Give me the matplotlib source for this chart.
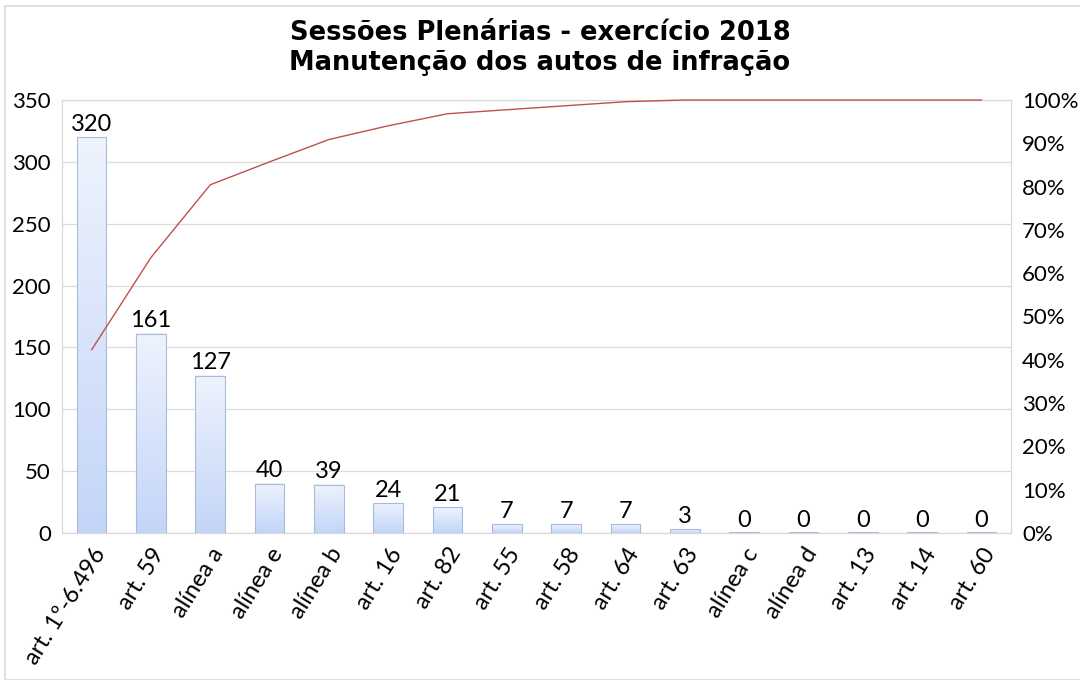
import matplotlib
matplotlib.use("Agg")
import matplotlib.pyplot as plt
import numpy as np
from matplotlib.patches import Rectangle
from matplotlib.colors import LinearSegmentedColormap

categories = ["art. 1º-6.496", "art. 59", "alínea a", "alínea e", "alínea b", "art. 16",
              "art. 82", "art. 55", "art. 58", "art. 64", "art. 63", "alínea c",
              "alínea d", "art. 13", "art. 14", "art. 60"]
values = [320, 161, 127, 40, 39, 24, 21, 7, 7, 7, 3, 0, 0, 0, 0, 0]
title_lines = ["Sessões Plenárias - exercício 2018", "Manutenção dos autos de infração"]

cum_pct = np.cumsum(values) / np.sum(values) * 100

plt.rcParams['font.family'] = ['Lato', 'DejaVu Sans']

fig = plt.figure(figsize=(10.8, 6.8), dpi=100)
fig.patches.append(Rectangle((5/1080, 0), 2, (680-6)/680, transform=fig.transFigure,
                             fill=False, edgecolor="#d9d9d9", linewidth=1.2))
ax = fig.add_axes([62/1080, 1-533/680, (1011-62)/1080, (533-100)/680])
x = np.arange(len(categories))

w = 0.5
grad = np.linspace(0, 1, 256).reshape(-1, 1)
cmap = LinearSegmentedColormap.from_list("g", ["#c3d5f8", "#eef3fd"])
for xi, v in zip(x, values):
    h = max(v, 0.6)
    ax.imshow(grad, extent=(xi - w/2, xi + w/2, 0, h), origin="lower", cmap=cmap,
              aspect="auto", zorder=2)
    ax.add_patch(Rectangle((xi - w/2, 0), w, h, fill=False, edgecolor="#a9bbdc",
                           linewidth=0.8, zorder=3))
    ax.text(xi, v + 2, str(v), ha="center", va="bottom", fontsize=17, zorder=4)
ax.set_xlim(-0.5, len(categories) - 0.5)
ax.set_ylim(0, 350)
ax.set_yticks(np.arange(0, 351, 50))
ax.yaxis.grid(True, color="#dcdcdc", linewidth=0.9)
ax.set_axisbelow(True)
ax.set_xticks(x)
ax.set_xticklabels(categories, rotation=58, ha="right", va="top", rotation_mode="anchor", fontsize=17)
ax.tick_params(axis="y", length=0, labelsize=16, pad=8)
ax.tick_params(axis="x", length=0, pad=8)
for s in ax.spines.values():
    s.set_color("#d9d9d9")

ax2 = ax.twinx()
ax2.plot(x, cum_pct, color="#c0504d", linewidth=1.0, clip_on=False, zorder=5)
ax2.set_ylim(0, 100)
ax2.set_yticks(np.arange(0, 101, 10))
ax2.set_yticklabels([f"{v}%" for v in range(0, 101, 10)])
ax2.tick_params(axis="y", length=0, labelsize=16, pad=8)
for s in ax2.spines.values():
    s.set_color("#d9d9d9")

fig.text(0.5, 1 - 33/680, title_lines[0], ha="center", va="center", fontsize=18.5,
         fontweight="bold", family="DejaVu Sans")
fig.text(0.5, 1 - 63/680, title_lines[1], ha="center", va="center", fontsize=18.5,
         fontweight="bold", family="DejaVu Sans")

fig.savefig("out.png", dpi=100)
